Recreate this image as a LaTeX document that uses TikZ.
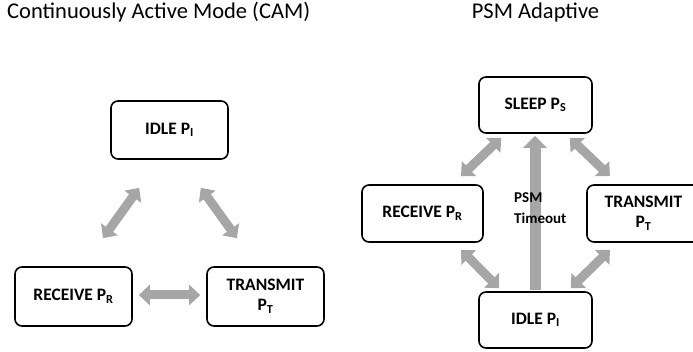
\documentclass[tikz,border=0pt]{standalone}
\usepackage{fontspec}
\setmainfont{Carlito}
\usetikzlibrary{arrows.meta}
\definecolor{arrowgray}{HTML}{A6A6A6}
\tikzset{
  state/.style={draw=black, line width=1.6pt, rounded corners=7pt, fill=white,
    inner sep=0pt, align=center, font=\bfseries\fontsize{17.5}{20}\selectfont},
  title/.style={inner sep=0pt, font=\fontsize{22.5}{26}\selectfont},
  fat/.style={draw=arrowgray, line width=9pt,
    {Triangle[width=20pt,length=11pt]}-{Triangle[width=20pt,length=11pt]}},
  fatone/.style={draw=arrowgray, line width=11pt,
    -{Triangle[width=23pt,length=12pt]}},
  note/.style={inner sep=0pt, align=left, font=\bfseries\fontsize{15}{21}\selectfont}
}
\begin{document}
\begin{tikzpicture}[x=1pt, y=-1pt]
\useasboundingbox (0,0) rectangle (693,352);

% panel titles
\node[title, anchor=base west] (tcam) at (7,19) {Continuously Active Mode (CAM)};
\node[title, anchor=base] (tpsm) at (535.5,19) {PSM Adaptive};

% CAM: three states
\node[state, minimum width=117pt, minimum height=58pt] (idle) at (169.5,130) {IDLE P\textsubscript{I}};
\node[state, minimum width=117pt, minimum height=59pt] (recv) at (73.5,296.5) {RECEIVE P\textsubscript{R}};
\node[state, minimum width=117pt, minimum height=59pt] (trans) at (265.5,296.5) {TRANSMIT\\P\textsubscript{T}};

\draw[fat] ([xshift=29.5pt,yshift=28pt]recv.north) -- ([xshift=29pt,yshift=-28pt]idle.south west);
\draw[fat] ([xshift=-28pt,yshift=-28pt]idle.south east) -- ([xshift=-28.5pt,yshift=28pt]trans.north);
\draw[fat] ([xshift=6pt,yshift=1.5pt]recv.east) -- ([xshift=-6pt,yshift=1.5pt]trans.west);

% PSM adaptive: four states
\node[state, minimum width=113pt, minimum height=56pt] (sleep) at (535.5,105) {SLEEP P\textsubscript{S}};
\node[state, minimum width=121pt, minimum height=57pt] (recv2) at (422.5,213.5) {RECEIVE P\textsubscript{R}};
\node[state, minimum width=113pt, minimum height=57pt] (trans2) at (643.5,213.5) {TRANSMIT\\P\textsubscript{T}};
\node[state, minimum width=113pt, minimum height=56pt] (idle2) at (535.5,320) {IDLE P\textsubscript{I}};

\draw[fatone] ([xshift=-0.5pt,yshift=1pt]idle2.north) -- ([xshift=-0.5pt,yshift=-2pt]sleep.south);
\draw[fat] ([xshift=38.5pt,yshift=8pt]recv2.north) -- ([xshift=23pt,yshift=-4pt]sleep.south west);
\draw[fat] ([xshift=-23pt,yshift=-4pt]sleep.south east) -- ([xshift=-33.5pt,yshift=8pt]trans2.north);
\draw[fat] ([xshift=38.5pt,yshift=-7pt]recv2.south) -- ([xshift=21pt,yshift=3pt]idle2.north west);
\draw[fat] ([xshift=-33.5pt,yshift=-7pt]trans2.south) -- ([xshift=-22pt,yshift=3pt]idle2.north east);

\node[note, anchor=north west] (timeout) at (514,192) {PSM\\Timeout};
\end{tikzpicture}
\end{document}
